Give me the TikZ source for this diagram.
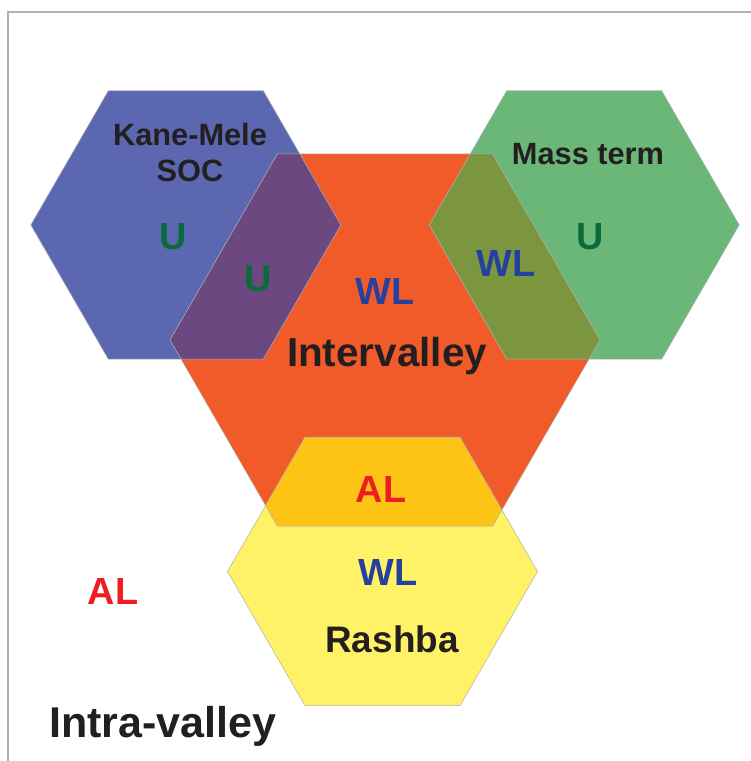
\documentclass[tikz,border=0pt]{standalone}
\usepackage{fontspec}
\setmainfont{Liberation Sans}
\usetikzlibrary{%
  calc,
  shapes.geometric,
}

\definecolor{socblue}{HTML}{5B67B0}
\definecolor{massgreen}{HTML}{6BB778}
\definecolor{interorange}{HTML}{F15A29}
\definecolor{rashbayellow}{HTML}{FFF266}
\definecolor{bluexorange}{HTML}{6B4880}
\definecolor{greenxorange}{HTML}{7B963F}
\definecolor{yellowxorange}{HTML}{FDC315}
\definecolor{textdark}{HTML}{231F20}
\definecolor{tagU}{HTML}{0B6B3A}
\definecolor{tagWL}{HTML}{2441A0}
\definecolor{tagAL}{HTML}{EE1C25}

% outline of a hexagon node, as a path
\newcommand\hexof[1]{(#1.corner 1) -- (#1.corner 2) -- (#1.corner 3)
  -- (#1.corner 4) -- (#1.corner 5) -- (#1.corner 6) -- cycle}

\begin{document}
\begin{tikzpicture}[%
           hexagon/.style={
             % The shape:
             regular polygon,
             regular polygon sides=6,
             % The size (circumcircle):
             minimum size=6.2cm,
             inner sep=0pt,
             outer sep=0pt,
           },
           outline/.style={
             draw=black!30,
             line width=0.3pt,
           },
           frame/.style={
             draw=black!30,
             line width=0.7pt,
           },
           term/.style={
             anchor=base,
             text=textdark,
             font=\fontsize{17.5}{20.5}\selectfont\bfseries,
           },
           title/.style={
             anchor=base,
             text=textdark,
             font=\fontsize{23}{27}\selectfont\bfseries,
           },
           tag/.style={
             anchor=base,
             font=\fontsize{21.5}{25}\selectfont\bfseries,
           },
         ]
         \useasboundingbox (0,0) rectangle (15.02,15.22);
         \draw[frame] (0.16,0) -- (0.16,14.98) -- (15.02,14.98);

         % the four hexagons
         \node[hexagon, fill=interorange, minimum size=8.6cm] (inter) at (7.7,8.42) {};
         \node[hexagon, fill=socblue] (kane) at ($ (inter) + (150:4.6) $) {};
         \node[hexagon, fill=massgreen] (mass) at ($ (inter) + (30:4.6) $) {};
         \node[hexagon, fill=rashbayellow] (rashba) at ($ (inter) + (-0.05,-4.63) $) {};

         % overlaps with the intervalley one
         \begin{scope}
           \clip \hexof{inter};
           \fill[bluexorange] \hexof{kane};
           \fill[greenxorange] \hexof{mass};
           \fill[yellowxorange] \hexof{rashba};
         \end{scope}
         \draw[outline] \hexof{inter};
         \draw[outline] \hexof{kane};
         \draw[outline] \hexof{mass};
         \draw[outline] \hexof{rashba};

         % names of the terms
         \node[term, anchor=center, align=center] (kanename) at (3.8,12.17) {Kane-Mele\\SOC};
         \node[term] (massname) at (11.76,11.92) {Mass term};
         \node[title] (intername) at (7.74,7.88) {Intervalley};
         \node[title, font=\fontsize{21}{25}\selectfont\bfseries] (rashbaname) at (7.84,2.16) {Rashba};
         \node[title, font=\fontsize{24.5}{29}\selectfont\bfseries] (intraname) at (3.26,0.48) {Intra-valley};

         % localisation tags
         \node[tag, text=tagU] (kaneU) at (3.46,10.22) {U};
         \node[tag, text=tagU] (kaneinterU) at (5.16,9.38) {U};
         \node[tag, text=tagU] (massU) at (11.8,10.22) {U};
         \node[tag, text=tagWL] (massinterWL) at (10.12,9.68) {WL};
         \node[tag, text=tagWL] (interWL) at (7.7,9.12) {WL};
         \node[tag, text=tagAL] (rashbainterAL) at (7.62,5.16) {AL};
         \node[tag, text=tagWL] (rashbaWL) at (7.76,3.5) {WL};
         \node[tag, text=tagAL] (intraAL) at (2.26,3.12) {AL};

     \end{tikzpicture}
\end{document}
